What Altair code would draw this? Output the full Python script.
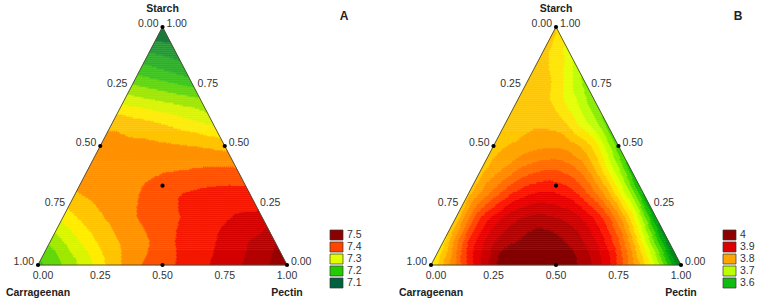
import numpy as np
import pandas as pd
import altair as alt

# ---------------- data ----------------
COMPONENTS = ["Starch", "Carrageenan", "Pectin"]
TICKS = [0.0, 0.25, 0.5, 0.75, 1.0]

# Response surface values on a lattice: row k is Starch = k/10,
# entry i is Pectin = i/10 (Carrageenan = 1 - Starch - Pectin)
A_ROWS = [
    [7.19, 7.235, 7.285, 7.35, 7.395, 7.42, 7.445, 7.47, 7.495, 7.525, 7.56],
    [7.24, 7.29, 7.34, 7.375, 7.40, 7.433, 7.45, 7.475, 7.50, 7.53],
    [7.31, 7.35, 7.375, 7.40, 7.415, 7.44, 7.455, 7.47, 7.475],
    [7.365, 7.375, 7.385, 7.41, 7.43, 7.44, 7.445, 7.445],
    [7.37, 7.375, 7.385, 7.395, 7.40, 7.405, 7.405],
    [7.37, 7.375, 7.375, 7.37, 7.365, 7.355],
    [7.36, 7.345, 7.33, 7.31, 7.29],
    [7.28, 7.265, 7.25, 7.235],
    [7.20, 7.18, 7.16],
    [7.13, 7.115],
    [7.07],
]
B_ROWS = [
    [3.74, 3.85, 3.95, 4.02, 4.035, 4.025, 3.995, 3.94, 3.84, 3.72, 3.57],
    [3.765, 3.90, 3.97, 4.0, 4.015, 3.995, 3.955, 3.88, 3.74, 3.58],
    [3.78, 3.90, 3.955, 3.98, 3.975, 3.95, 3.89, 3.77, 3.60],
    [3.79, 3.86, 3.91, 3.93, 3.915, 3.86, 3.76, 3.62],
    [3.79, 3.83, 3.865, 3.875, 3.845, 3.76, 3.64],
    [3.79, 3.805, 3.82, 3.815, 3.77, 3.66],
    [3.79, 3.795, 3.79, 3.74, 3.67],
    [3.79, 3.785, 3.74, 3.68],
    [3.79, 3.77, 3.70],
    [3.785, 3.74],
    [3.78],
]
A_LEGEND = ["7.5", "7.4", "7.3", "7.2", "7.1"]
B_LEGEND = ["4", "3.9", "3.8", "3.7", "3.6"]
# design points (Starch, Pectin)
DESIGN = [(1, 0), (0, 0), (0, 1), (0.5, 0), (0.5, 0.5), (0, 0.5), (1 / 3, 1 / 3)]

# ---------------- styles ----------------
A_EDGES = [7.1 + k / 30 for k in range(-2, 15)]
A_COLORS = ["#0F5A34", "#146A38", "#1C7A3C", "#249A34", "#2EB22A", "#3CC81C",
            "#62D80E", "#A0E800", "#DAF500", "#FFEC00", "#FFC400", "#FF9200",
            "#FF5200", "#F51800", "#D40000", "#B40000", "#9A0000", "#840000"]
B_EDGES = [3.55 + 0.025 * k for k in range(19)]
B_COLORS = ["#005A18", "#006E1A", "#008A18", "#00A512", "#18C000", "#4CD800",
            "#88EE00", "#BEFF00", "#E6FF00", "#FFE600", "#FFC800", "#FFA600",
            "#FF8A00", "#FF6C00", "#FF4600", "#FA1800", "#E60000", "#CC0000",
            "#B00000", "#850000"]
A_LEG_COLORS = ["#8B0000", "#FF4500", "#E2FF00", "#22CC00", "#006040"]
B_LEG_COLORS = ["#8B0000", "#DD0000", "#FFA500", "#BBFF00", "#11BB11"]

FONT = "Liberation Sans"
TXT = "#333333"

PANELS = [
    dict(letter="A", rows=A_ROWS, edges=A_EDGES, colors=A_COLORS,
         legend=A_LEGEND, legcols=A_LEG_COLORS, x0=38, x1=287, legx=330),
    dict(letter="B", rows=B_ROWS, edges=B_EDGES, colors=B_COLORS,
         legend=B_LEGEND, legcols=B_LEG_COLORS, x0=431, x1=681, legx=723),
]
YTOP, YBOT = 27, 265
N = 120


def make_field(rows, deg=4):
    """Smooth surface through the read lattice: polynomial trend plus
    piecewise-linear correction so every read value is honoured."""
    S, P, V = [], [], []
    for k, row in enumerate(rows):
        for i, v in enumerate(row):
            S.append(k / 10)
            P.append(i / 10)
            V.append(v)
    S, P, V = np.array(S), np.array(P), np.array(V)
    terms = [(a, b) for a in range(deg + 1) for b in range(deg + 1 - a)]
    X = np.column_stack([S ** a * P ** b for a, b in terms])
    coef, *_ = np.linalg.lstsq(X, V, rcond=None)

    def poly(s, p):
        return sum(c * s ** a * p ** b for c, (a, b) in zip(coef, terms))

    R = np.zeros((11, 11))
    for k, row in enumerate(rows):
        for i, v in enumerate(row):
            R[k, i] = v - poly(k / 10, i / 10)

    def f(s, p):
        u, v = s * 10, p * 10
        k = np.minimum(np.floor(u).astype(int), 9)
        i = np.minimum(np.floor(v).astype(int), 9)
        fu, fv = u - k, v - i
        lower = (fu + fv) <= 1
        k1 = np.minimum(k + 1, 10)
        i1 = np.minimum(i + 1, 10)
        r_low = R[k, i] * (1 - fu - fv) + R[k1, i] * fu + R[k, i1] * fv
        r_up = R[k1, i1] * (fu + fv - 1) + R[k1, i] * (1 - fv) + R[k, i1] * (1 - fu)
        return poly(s, p) + np.where(lower, r_low, r_up)
    return f


def feature(ring, color):
    return {"type": "Feature",
            "geometry": {"type": "Polygon", "coordinates": [ring]},
            "properties": {"c": color}}


fills, outlines, boxes = [], [], []
dots, left_lab, right_lab, bot_lab, titles, leg_lab = [], [], [], [], [], []

for pn in PANELS:
    x0, x1 = pn["x0"], pn["x1"]
    W, H = x1 - x0, YBOT - YTOP

    def xy(s, p):
        return [round(float(x0 + W * (p + s / 2)), 2), round(float(YBOT - H * s), 2)]

    f = make_field(pn["rows"])
    edges = np.array(pn["edges"])
    cols = pn["colors"]
    for k in range(N):
        M = N - k
        t = np.arange(2 * M - 1)
        j = t // 2
        up = (t % 2 == 0)
        s = np.where(up, (3 * k + 1) / (3 * N), (3 * k + 2) / (3 * N))
        p = np.where(up, (3 * j + 1) / (3 * N), (3 * j + 2) / (3 * N))
        idx = np.searchsorted(edges, f(s, p))
        a = 0
        while a < len(t):
            b = a
            while b + 1 < len(t) and idx[b + 1] == idx[a]:
                b += 1
            bmin = a // 2 if a % 2 == 0 else a // 2 + 1
            bmax = b // 2 + 1
            tmin = a // 2
            tmax = b // 2 if b % 2 == 0 else b // 2 + 1
            ring = [xy(k / N, i / N) for i in range(bmin, bmax + 1)]
            ring += [xy((k + 1) / N, i / N) for i in range(tmax, tmin - 1, -1)]
            ring.append(ring[0])
            fills.append(feature(ring, cols[int(idx[a])]))
            a = b + 1

    corners = [xy(1, 0), xy(0, 0), xy(0, 1)]
    outlines.append(feature(corners + [corners[0]], "#4a4a3a"))

    for s_, p_ in DESIGN:
        lon, lat = xy(s_, p_)
        dots.append({"lon": lon, "lat": lat})
    for v in TICKS:
        lon, lat = xy(1 - v, 0)      # carrageenan on left side
        left_lab.append({"lon": lon, "lat": lat, "t": f"{v:.2f}"})
        lon, lat = xy(v, 1 - v)      # starch on right side
        right_lab.append({"lon": lon, "lat": lat, "t": f"{v:.2f}"})
        lon, lat = xy(0, v)          # pectin on bottom
        bot_lab.append({"lon": lon + (5 if v == 0 else 0), "lat": lat, "t": f"{v:.2f}"})
    ax, ay = xy(1, 0)
    titles.append({"lon": ax, "lat": ay - 18, "t": COMPONENTS[0], "s": 10.5})
    bx, by = xy(0, 0)
    titles.append({"lon": bx, "lat": by + 28, "t": COMPONENTS[1], "s": 10.5})
    cx, cy = xy(0, 1)
    titles.append({"lon": cx, "lat": cy + 28, "t": COMPONENTS[2], "s": 10.5})
    titles.append({"lon": x1 + 57, "lat": 16, "t": pn["letter"], "s": 12})

    lx = pn["legx"]
    for i, (lab, col) in enumerate(zip(pn["legend"], pn["legcols"])):
        top = 230 + 12 * i
        ring = [[lx, top], [lx + 13, top], [lx + 13, top + 10], [lx, top + 10], [lx, top]]
        boxes.append(feature(ring, col))
        leg_lab.append({"lon": lx + 17, "lat": top + 5, "t": lab})

PROJ = dict(type="identity", scale=1, translate=[0, 0])

frame = alt.Chart(alt.Data(values=[feature([[0, 0], [757, 0], [757, 304], [0, 304], [0, 0]], "#ffffff")])
                  ).mark_geoshape(fill="white", strokeWidth=0).project(**PROJ)

fill_layer = alt.Chart(alt.Data(values=fills)).mark_geoshape(strokeWidth=0.6).encode(
    fill=alt.Fill("properties.c:N", scale=None),
    stroke=alt.Stroke("properties.c:N", scale=None),
).project(**PROJ)

outline_layer = alt.Chart(alt.Data(values=outlines)).mark_geoshape(
    filled=False, stroke="#4a4a3a", strokeWidth=0.9).project(**PROJ)

box_layer = alt.Chart(alt.Data(values=boxes)).mark_geoshape(
    stroke="#333333", strokeWidth=0.7).encode(
    fill=alt.Fill("properties.c:N", scale=None)).project(**PROJ)

dot_layer = alt.Chart(pd.DataFrame(dots)).mark_circle(
    color="black", opacity=1, size=18).encode(
    longitude="lon:Q", latitude="lat:Q").project(**PROJ)


def text_layer(rows, **kw):
    return alt.Chart(pd.DataFrame(rows)).mark_text(
        font=FONT, color=TXT, baseline="middle", **kw).encode(
        longitude="lon:Q", latitude="lat:Q", text="t:N").project(**PROJ)


left_layer = text_layer(left_lab, align="right", dx=-4, dy=-3, fontSize=10.5)
right_layer = text_layer(right_lab, align="left", dx=4, dy=-3, fontSize=10.5)
bot_layer = text_layer(bot_lab, align="center", dy=11, fontSize=10.5)
leg_layer = text_layer(leg_lab, align="left", fontSize=10.5)
title_layer = alt.Chart(pd.DataFrame(titles)).mark_text(
    font=FONT, color="#222222", fontWeight="bold", baseline="middle", align="center").encode(
    longitude="lon:Q", latitude="lat:Q", text="t:N",
    size=alt.Size("s:Q", scale=None)).project(**PROJ)

chart = alt.layer(
    frame, fill_layer, outline_layer, dot_layer, left_layer, right_layer,
    bot_layer, title_layer, box_layer, leg_layer
).properties(
    width=757, height=304, padding=0, autosize=alt.AutoSizeParams(type="none")
).configure_view(stroke=None).configure(background="white")

chart.save("out.html", embed_options={"renderer": "svg", "actions": False})
